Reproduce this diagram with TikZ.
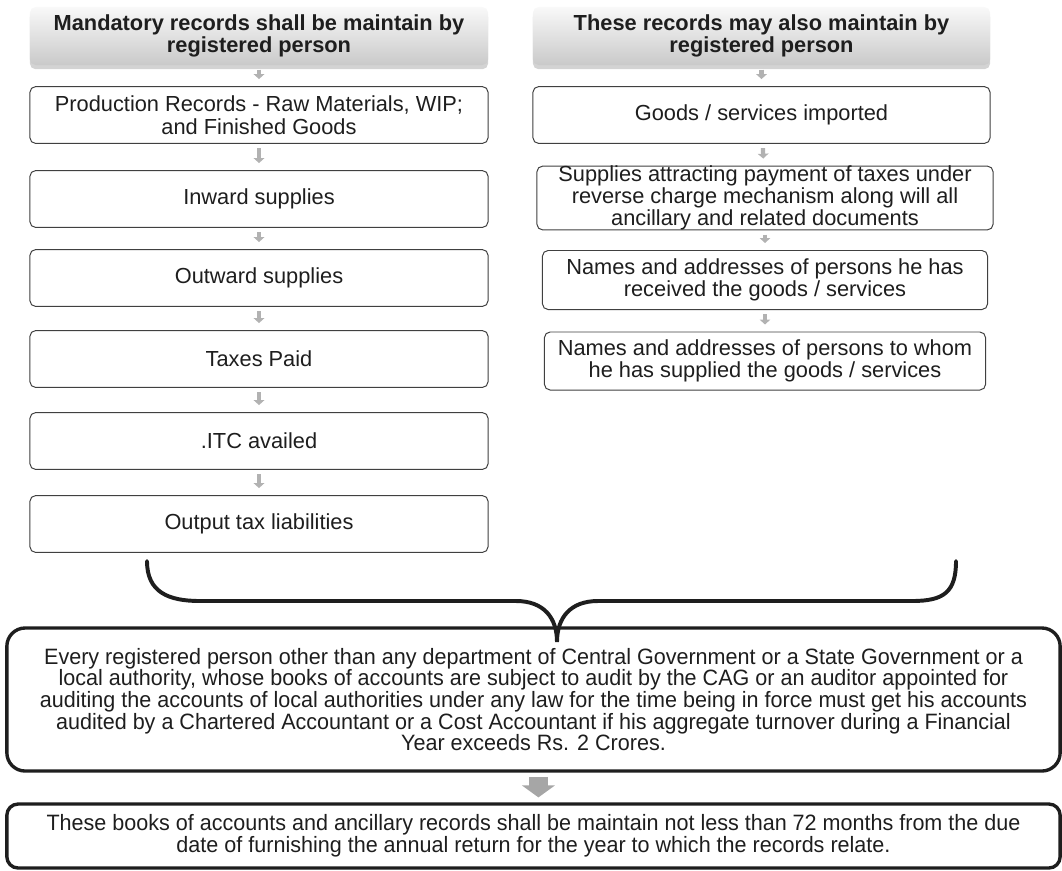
\documentclass[tikz,border=0pt]{standalone}
\usepackage{fontspec}
\setmainfont{Liberation Sans}
\newfontfamily\narrowfont{Liberation Sans}[FakeStretch=0.97]
\usetikzlibrary{arrows.meta,shadows}

\definecolor{boxline}{HTML}{404040}
\definecolor{inkgray}{HTML}{1E1E1E}
\definecolor{arrowgray}{HTML}{A6A6A6}
\newcommand\tightlines{\lineskiplimit=-20pt\relax}

\begin{document}
\begin{tikzpicture}[
    x=0.025cm, y=-0.025cm,
    header/.style={draw=none, rounded corners=4pt, top color=gray!5,
        bottom color=gray!42, align=center, inner sep=0pt,
        minimum height=1.45cm, text=inkgray,
        font=\fontsize{15.5}{15.5}\selectfont\bfseries,
        drop shadow={shadow xshift=0pt, shadow yshift=-3pt, opacity=0.35}},
    record/.style={draw=boxline, line width=0.7pt, rounded corners=4pt,
        fill=white, align=center, inner sep=0pt, minimum height=1.42cm,
        text=inkgray, font=\fontsize{15.5}{16}\selectfont},
    summary/.style={draw=inkgray, line width=2.4pt, rounded corners=13pt,
        align=center, inner sep=0pt, minimum width=26.325cm, text=inkgray,
        font=\narrowfont\fontsize{15.8}{15.4}\selectfont\tightlines},
    smallarrow/.style={draw=gray!60, line width=3pt,
        -{Triangle[length=3.5pt, width=7.5pt]}, shorten <=3pt, shorten >=5pt},
    bigarrow/.style={draw=arrowgray, line width=13.5pt,
        -{Triangle[length=8.5pt, width=23pt]}, shorten <=3pt, shorten >=3.5pt},
    brace/.style={draw=inkgray, line width=2.8pt, line cap=round}
]
    \path[use as bounding box] (0,0) rectangle (1062,870);

    % Left column: mandatory records.
    \node[header, minimum width=11.45cm] (hl) at (259,36)
        {Mandatory records shall be maintain by\\registered person};
    \node[record, minimum width=11.45cm] (l1) at (259,115)
        {Production Records - Raw Materials, WIP;\\and Finished Goods};
    \node[record, minimum width=11.45cm] (l2) at (259,199) {Inward supplies};
    \node[record, minimum width=11.45cm] (l3) at (259,278) {Outward supplies};
    \node[record, minimum width=11.45cm] (l4) at (259,359) {Taxes Paid};
    \node[record, minimum width=11.45cm] (l5) at (259,441) {.ITC availed};
    \node[record, minimum width=11.45cm] (l6) at (259,524) {Output tax liabilities};

    \draw[smallarrow] (hl) -- (l1);
    \draw[smallarrow] (l1) -- (l2);
    \draw[smallarrow] (l2) -- (l3);
    \draw[smallarrow] (l3) -- (l4);
    \draw[smallarrow] (l4) -- (l5);
    \draw[smallarrow] (l5) -- (l6);

    % Right column: optional records.
    \node[header, minimum width=11.425cm] (hr) at (761.5,36)
        {These records may also maintain by\\registered person};
    \node[record, minimum width=11.425cm] (r1) at (761.5,115)
        {Goods / services imported};
    \node[record, minimum width=11.4cm, minimum height=1.5cm,
        font=\fontsize{15.5}{14}\selectfont] (r2) at (765,198)
        {Supplies attracting payment of taxes under\\reverse charge mechanism along will all\\ancillary and related documents};
    \node[record, minimum width=11.125cm, minimum height=1.475cm] (r3) at (765,280)
        {Names and addresses of persons he has\\received the goods / services};
    \node[record, minimum width=11.025cm, minimum height=1.45cm] (r4) at (765,361)
        {Names and addresses of persons to whom\\he has supplied the goods / services};

    \draw[smallarrow] (hr) -- (r1);
    \draw[smallarrow] (r1) -- (r2);
    \draw[smallarrow] (r2) -- (r3);
    \draw[smallarrow] (r3) -- (r4);

    % The brace joining both columns.
    \draw[brace] (147,561) .. controls (147,592) and (168,601) .. (200,601)
        -- (516,601) .. controls (544,601) and (557,618) .. (557,642)
        .. controls (557,618) and (570,601) .. (598,601)
        -- (912,601) .. controls (944,601) and (956,592) .. (956,561);

    % Audit and retention.
    \node[summary, minimum height=3.575cm] (audit) at (533.5,699.5)
        {Every registered person other than any department of Central Government or a State Government or a\\
         local authority, whose books of accounts are subject to audit by the CAG or an auditor appointed for\\
         auditing the accounts of local authorities under any law for the time being in force must get his accounts\\
         audited by a Chartered Accountant or a Cost Accountant if his aggregate turnover during a Financial\\
         Year exceeds Rs. 2 Crores.};
    \node[summary, minimum height=1.6cm, rounded corners=8pt,
        font=\narrowfont\fontsize{15.8}{15.6}\selectfont\tightlines] (keep) at (533.5,836)
        {These books of accounts and ancillary records shall be maintain not less than 72 months from the due\\
         date of furnishing the annual return for the year to which the records relate.};

    \draw[bigarrow] ([xshift=3.5pt]audit.south) -- ([xshift=3.5pt]keep.north);
\end{tikzpicture}
\end{document}
